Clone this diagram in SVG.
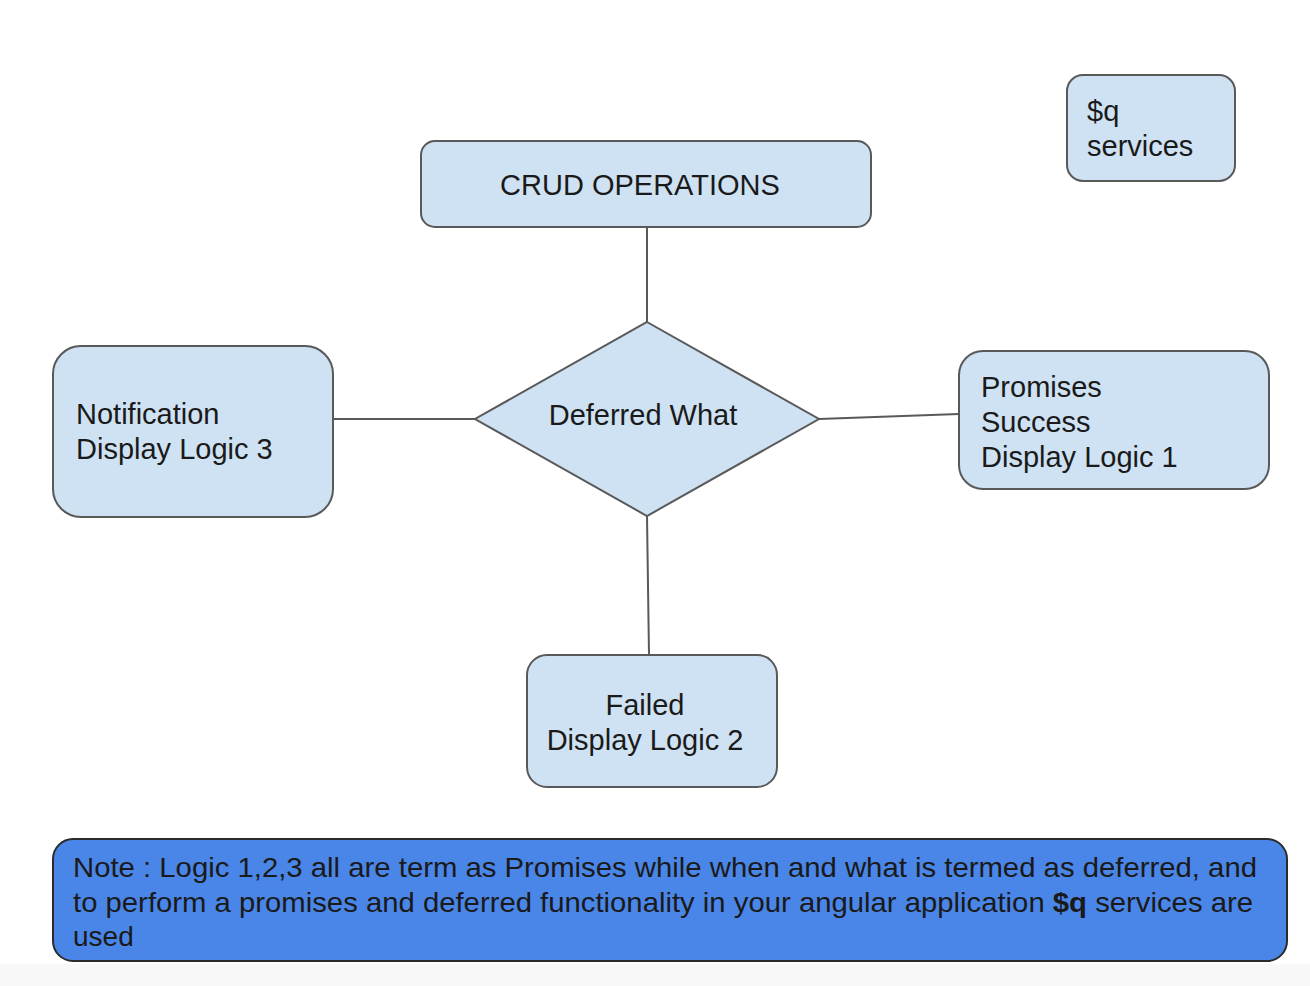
<svg xmlns="http://www.w3.org/2000/svg" width="1310" height="986" viewBox="0 0 1310 986">
<style>
.box{fill:#cfe2f3;stroke:#595959;stroke-width:2}
.t{font-family:"Liberation Sans",Arial,sans-serif;font-size:29px;fill:#1a1a1a}
.n{font-family:"Liberation Sans",Arial,sans-serif;font-size:28px;fill:#1a1a1a}
.c{stroke:#595959;stroke-width:2;fill:none}
</style>
<rect x="0" y="0" width="1310" height="986" fill="#ffffff"/>
<rect x="0" y="964" width="1310" height="22" fill="#f8f8f8"/>
<g id="connectors">
<line class="c" x1="647" y1="227" x2="647" y2="322"/>
<line class="c" x1="333" y1="419" x2="475" y2="419"/>
<line class="c" x1="819" y1="419" x2="959" y2="414"/>
<line class="c" x1="647" y1="516" x2="649" y2="655"/>
</g>
<g id="q-services">
<rect class="box" x="1067" y="75" width="168" height="106" rx="16"/>
<text class="t" x="1087" y="121">$q</text>
<text class="t" x="1087" y="156">services</text>
</g>
<g id="crud">
<rect class="box" x="421" y="141" width="450" height="86" rx="14"/>
<text class="t" x="640" y="195" text-anchor="middle">CRUD OPERATIONS</text>
</g>
<g id="deferred">
<polygon class="box" points="647,322 819,419 647,516 475,419"/>
<text class="t" x="643" y="425" text-anchor="middle">Deferred What</text>
</g>
<g id="notification">
<rect class="box" x="53" y="346" width="280" height="171" rx="28"/>
<text class="t" x="76" y="424">Notification</text>
<text class="t" x="76" y="459">Display Logic 3</text>
</g>
<g id="promises">
<rect class="box" x="959" y="351" width="310" height="138" rx="24"/>
<text class="t" x="981" y="397">Promises</text>
<text class="t" x="981" y="432">Success</text>
<text class="t" x="981" y="467">Display Logic 1</text>
</g>
<g id="failed">
<rect class="box" x="527" y="655" width="250" height="132" rx="20"/>
<text class="t" x="645" y="715" text-anchor="middle">Failed</text>
<text class="t" x="645" y="750" text-anchor="middle">Display Logic 2</text>
</g>
<g id="note">
<rect x="53" y="839" width="1234" height="122" rx="20" fill="#4a86e8" stroke="#2b2b2b" stroke-width="2"/>
<text class="n" x="73" y="877" textLength="1184" lengthAdjust="spacingAndGlyphs">Note : Logic 1,2,3 all are term as Promises while when and what is termed as deferred, and</text>
<text class="n" x="73" y="912" textLength="1180" lengthAdjust="spacingAndGlyphs">to perform a promises and deferred functionality in your angular application <tspan font-weight="bold">$q</tspan> services are</text>
<text class="n" x="73" y="946">used</text>
</g>
</svg>
